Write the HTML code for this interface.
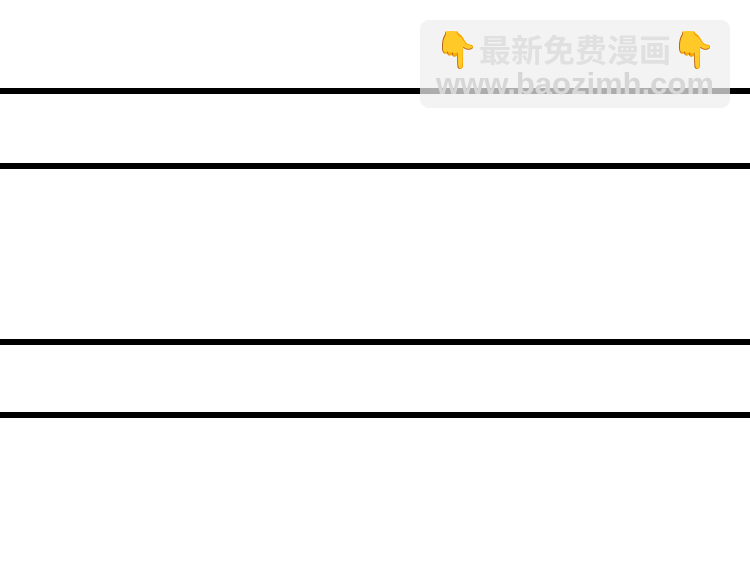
<!DOCTYPE html>
<html><head><meta charset="utf-8"><style>
html,body{margin:0;padding:0;background:#fff;width:750px;height:586px;overflow:hidden;position:relative}
.l{position:absolute;left:0;width:750px;background:#000}
.wm{position:absolute;left:420px;top:20px;width:310px;height:88px;border-radius:9px;background:rgba(238,238,238,0.72)}
.t1{position:absolute;left:0;width:310px;top:8px;text-align:center;font:bold 32px "Liberation Sans","Noto Sans CJK SC",sans-serif;color:#e0e0e0;white-space:nowrap;line-height:44px}
.t2{position:absolute;left:0;width:310px;top:46px;text-align:center;font:bold 31px "Liberation Sans",sans-serif;color:#d6d6d6;white-space:nowrap;line-height:36px}
.e{color:#f5b800;font-size:36px}
</style></head><body>
<div class="l" style="top:88px;height:6px"></div>
<div class="l" style="top:163px;height:6px"></div>
<div class="l" style="top:339px;height:6px"></div>
<div class="l" style="top:412px;height:6px"></div>
<div class="wm">
<div class="t1"><span class="e">👇</span>最新免费漫画<span class="e">👇</span></div>
<div class="t2">www.baozimh.com</div>
</div>
</body></html>
